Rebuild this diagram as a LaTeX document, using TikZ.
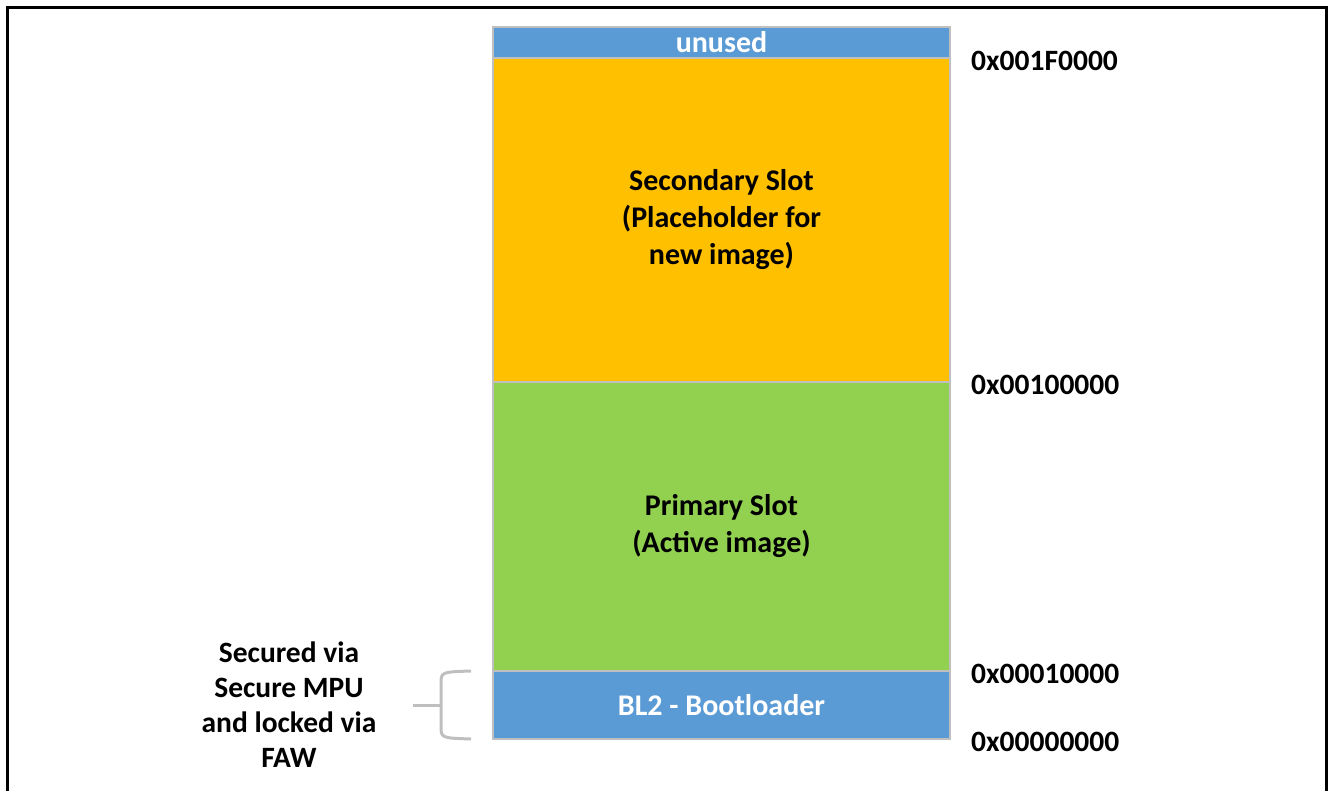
\documentclass[tikz,border=0pt]{standalone}
\usepackage{fontspec}
\setmainfont{Carlito}
\usepackage{tikz}
\usetikzlibrary{positioning}

\definecolor{memblue}{HTML}{5B9BD5}
\definecolor{memorange}{HTML}{FFC000}
\definecolor{memgreen}{HTML}{92D050}
\definecolor{memgray}{HTML}{BFBFBF}

\begin{document}
\begin{tikzpicture}
	[x=1pt, y=-1pt, node distance=0pt,
	slot/.style = {draw=memgray, line width=1.5pt, minimum width=457pt, inner sep=0pt, outer sep=0pt,
		align=center, font=\fontsize{30}{37}\selectfont\bfseries},
	addr/.style = {anchor=west, inner sep=0pt, yshift=-2.5pt, font=\fontsize{29.5}{36}\selectfont\bfseries},
	brace/.style = {draw=memgray, line width=3pt}]
	\useasboundingbox (0,0) rectangle (1328,791);
	\draw[line width=3pt] (7.5,800) |- (1326.5,8) -- (1326.5,800);
	\node[slot, fill=memblue, text=white, minimum height=31pt] (unused) at (721.5,42.5) {unused};
	\node[slot, fill=memorange, minimum height=324pt] (sec) [below = of unused] {Secondary Slot\\(Placeholder for\\new image)};
	\node[slot, fill=memgreen, minimum height=289pt] (pri) [below = of sec] {Primary Slot\\(Active image)};
	\node[slot, fill=memblue, text=white, minimum height=68pt] (bl2) [below = of pri] {BL2 - Bootloader};
	\node[addr] (a1) [right = 21pt of sec.north east] {0x001F0000};
	\node[addr] (a2) [right = 21pt of pri.north east] {0x00100000};
	\node[addr] (a3) [right = 21pt of bl2.north east] {0x00010000};
	\node[addr] (a4) [right = 21pt of bl2.south east] {0x00000000};
	\node[align=center, font=\fontsize{29.5}{35}\selectfont\bfseries] (note) at (289,705) {Secured via\\Secure MPU\\and locked via\\FAW};
	\coordinate (bt) at (471,671);
	\coordinate (bb) at (471,739);
	\coordinate (bm) at (441,705);
	\coordinate (tick) at (413,705);
	\draw[brace] (bt) .. controls (441,672) .. (441,684) -- (441,726) .. controls (441,738) .. (bb);
	\draw[brace] (tick) -- (bm);
\end{tikzpicture}
\end{document}
